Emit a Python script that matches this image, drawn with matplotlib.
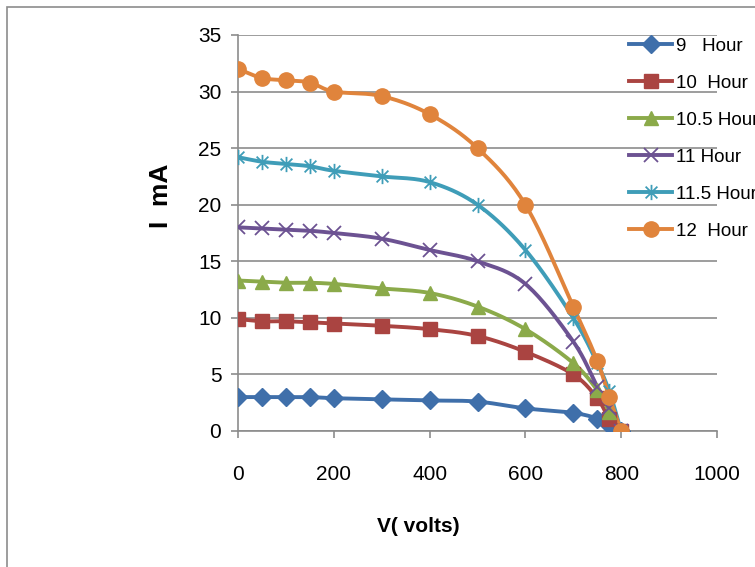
import numpy as np
import matplotlib
matplotlib.use("Agg")
import matplotlib.pyplot as plt
from matplotlib.path import Path
from matplotlib.lines import Line2D
from matplotlib.patches import Rectangle

plt.rcParams['font.family'] = ['Liberation Sans', 'DejaVu Sans']

volts = [0, 50, 100, 150, 200, 300, 400, 500, 600, 700, 750, 775, 800]
h9 = [3.0, 3.0, 3.0, 3.0, 2.9, 2.8, 2.7, 2.6, 2.0, 1.6, 1.1, 0.5, 0]
h10 = [9.9, 9.7, 9.7, 9.6, 9.5, 9.3, 9.0, 8.4, 7.0, 5.0, 2.9, 1.1, 0]
h105 = [13.3, 13.2, 13.1, 13.1, 13.0, 12.6, 12.2, 11.0, 9.0, 6.0, 3.6, 1.7, 0]
h11 = [18.0, 17.9, 17.8, 17.7, 17.5, 17.0, 16.0, 15.0, 13.0, 7.9, 3.9, 2.0, 0]
h115 = [24.2, 23.8, 23.6, 23.4, 23.0, 22.5, 22.0, 20.0, 16.0, 10.0, 6.0, 3.5, 0]
h12 = [32.0, 31.2, 31.0, 30.8, 30.0, 29.6, 28.0, 25.0, 20.0, 11.0, 6.2, 3.0, 0]
labels = ["9   Hour", "10  Hour", "10.5 Hour", "11 Hour", "11.5 Hour", "12  Hour"]
series = [h9, h10, h105, h11, h115, h12]

colors = ["#3F6FAA", "#AA4441", "#8BAA4A", "#6C5292", "#3F9DB8", "#E0843C"]

star = Path([(-1, -1), (1, 1), (-1, 1), (1, -1), (0, -1.3), (0, 1.3)],
            [Path.MOVETO, Path.LINETO, Path.MOVETO, Path.LINETO, Path.MOVETO, Path.LINETO])
markers = ["D", "s", "^", "x", star, "o"]
msizes = [9.5, 10, 10, 10, 11, 11]


def smooth(x, y, n=20):
    x = np.asarray(x, float)
    y = np.asarray(y, float)
    px = np.concatenate([[2 * x[0] - x[1]], x, [2 * x[-1] - x[-2]]])
    py = np.concatenate([[2 * y[0] - y[1]], y, [2 * y[-1] - y[-2]]])
    xs, ys = [], []
    for i in range(1, len(px) - 2):
        p0, p1, p2, p3 = (np.array([px[j], py[j]]) for j in (i - 1, i, i + 1, i + 2))
        c1 = p1 + (p2 - p0) / 6
        c2 = p2 - (p3 - p1) / 6
        t = np.linspace(0, 1, n)[:, None]
        b = (1 - t) ** 3 * p1 + 3 * (1 - t) ** 2 * t * c1 + 3 * (1 - t) * t ** 2 * c2 + t ** 3 * p2
        xs.extend(b[:, 0])
        ys.extend(b[:, 1])
    return xs, ys


W, H = 755, 567
fig = plt.figure(figsize=(W / 100, H / 100), dpi=100)
fig.patches.append(Rectangle((7 / W, -0.1), 1.2, 1 - 7 / H + 0.1, transform=fig.transFigure,
                             fill=False, edgecolor="#8C8C8C", linewidth=1.2))
ax = fig.add_axes([238 / W, (H - 431) / H, (717 - 238) / W, (431 - 35) / H])

handles = []
for y, lab, c, m, ms in zip(series, labels, colors, markers, msizes):
    sx, sy = smooth(volts, y)
    ax.plot(sx, sy, color=c, lw=2.8, zorder=3, solid_capstyle="round")
    unfilled = m in ("x",) or isinstance(m, Path)
    if unfilled:
        ax.plot(volts, y, ls="none", marker=m, ms=ms, mec=c, mfc="none", mew=1.3, zorder=4)
    else:
        ax.plot(volts, y, ls="none", marker=m, ms=ms, mec=c, mfc=c, zorder=4)
    handles.append(Line2D([], [], color=c, lw=2.8, marker=m, ms=ms, mec=c,
                          mfc=("none" if unfilled else c), mew=(1.3 if unfilled else 1)))

ax.set_xlim(0, 1000)
ax.set_ylim(0, 35)
ax.set_xticks(range(0, 1001, 200))
ax.set_yticks(range(0, 36, 5))
ax.yaxis.grid(True, color="#8C8C8C", lw=1.2)
ax.set_axisbelow(True)
for s in ("top", "right"):
    ax.spines[s].set_visible(False)
for s in ("left", "bottom"):
    ax.spines[s].set_color("#8C8C8C")
    ax.spines[s].set_linewidth(1.2)
ax.tick_params(axis="both", colors="#8C8C8C", length=5, width=1.2, labelsize=15, labelcolor="black")
ax.tick_params(axis="x", pad=19.5)
ax.tick_params(axis="y", pad=7)

fig.text(418 / W, 1 - 526 / H, "V( volts)", fontsize=15, fontweight="bold",
         ha="center", va="center")
fig.text(161 / W, 1 - 196 / H, "I  mA", fontsize=19, fontweight="bold",
         ha="center", va="center", rotation=90)

fig.legend(handles, labels, loc="upper left", bbox_to_anchor=(629 / W, 1 - 37.5 / H),
           frameon=False, fontsize=13.5, handlelength=2.3, handletextpad=0.22,
           labelspacing=1.06, borderpad=0, borderaxespad=0)

fig.savefig("out.png", dpi=100)
